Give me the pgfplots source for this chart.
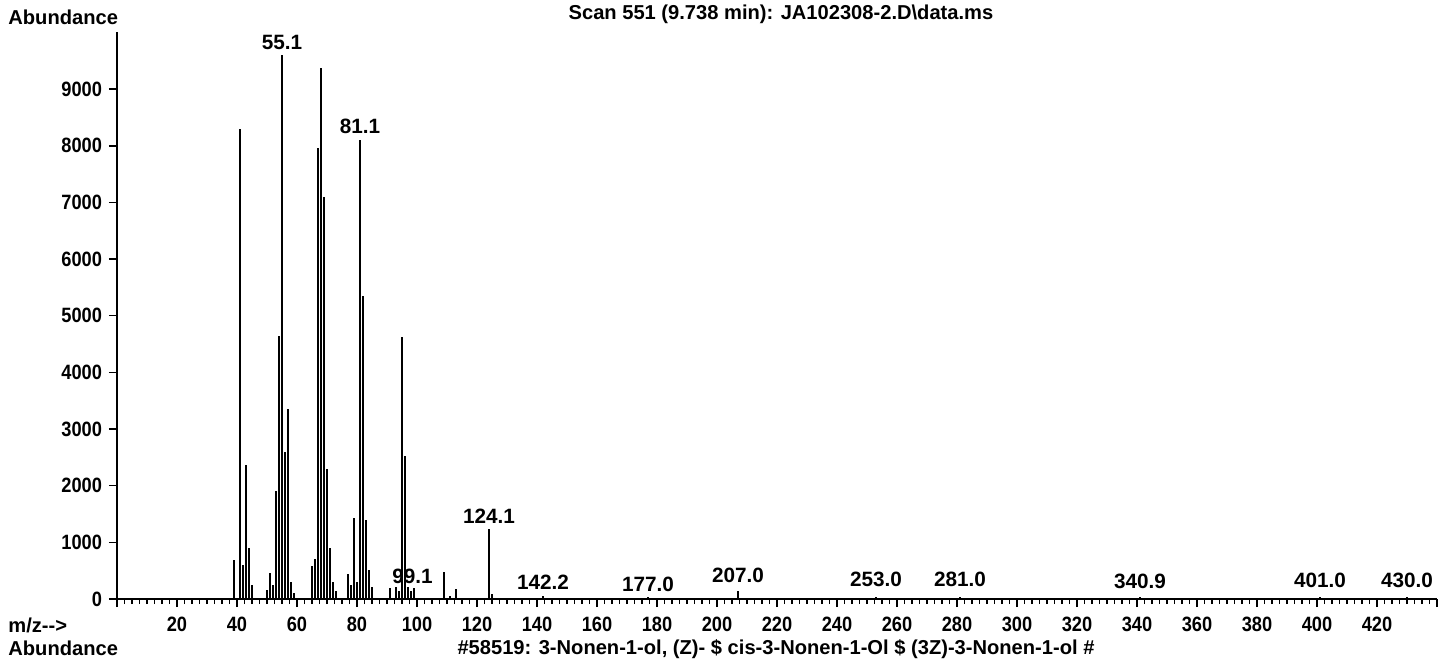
\documentclass[border=0pt]{standalone}
\usepackage{fontspec}
\setmainfont{Liberation Sans}
\newfontfamily\condfont[FakeStretch=0.88]{Liberation Sans}
\usepackage{pgfplots}
\pgfplotsset{compat=1.18}
\pgfplotstableread{
mz ab
39 690
41 8300
42 600
43 2365
44 905
45 250
50 160
51 465
52 250
53 1906
54 4640
55 9600
56 2600
57 3350
58 300
59 100
65 590
66 700
67 7960
68 9380
69 7100
70 2290
71 900
72 300
73 150
77 440
78 250
79 1435
80 300
81 8100
82 5350
83 1394
84 510
85 210
91 190
93 210
94 150
95 4630
96 2520
97 210
98 150
99 200
109 480
111 60
113 170
124 1235
125 80
142 50
177 30
207 150
253 40
281 40
341 30
401 30
430 30
}\spectrum
\newcommand{\tfont}{\fontsize{10.1}{12}\selectfont\bfseries}
\newcommand{\pfont}{\fontsize{10.4}{12}\selectfont\bfseries}
\newcommand{\nfont}{\condfont\fontsize{10.4}{12}\selectfont\bfseries}
\begin{document}
\begin{tikzpicture}
\useasboundingbox (0,0) rectangle (721bp,330bp);
\begin{axis}[
  at={(58.5bp,30.5bp)}, anchor=south west,
  scale only axis, width=660bp, height=283.3bp,
  xmin=0, xmax=440, ymin=0, ymax=10000,
  axis x line=bottom, axis y line=left,
  axis line style={-, line width=1bp, black},
  xtick={0,20,...,440},
  xticklabels={{},20,40,60,80,100,120,140,160,180,200,220,240,260,280,300,320,340,360,380,400,420,{}},
  minor x tick num=7,
  ytick={0,1000,...,9000},
  scaled y ticks=false,
  tick align=outside,
  major tick length=4bp, minor tick length=2.5bp,
  tick style={line width=0.8bp, black},
  /pgf/number format/set thousands separator={},
  /pgf/number format/assume math mode=true,
  ticklabel style={font=\nfont},
  xticklabel style={yshift=-1.5bp},
  clip=false,
]
\addplot[ycomb, line width=0.9bp, black, mark=none] table[x=mz, y=ab] {\spectrum};
\node[anchor=south, inner sep=0pt, font=\pfont] at (axis cs:55,9690) {55.1};
\node[anchor=south, inner sep=0pt, font=\pfont] at (axis cs:81,8205) {81.1};
\node[anchor=south, inner sep=0pt, font=\pfont] at (axis cs:124,1324) {124.1};
\node[anchor=south, inner sep=0pt, font=\pfont] at (axis cs:98.5,265) {99.1};
\node[anchor=south, inner sep=0pt, font=\pfont] at (axis cs:142,159) {142.2};
\node[anchor=south, inner sep=0pt, font=\pfont] at (axis cs:177,124) {177.0};
\node[anchor=south, inner sep=0pt, font=\pfont] at (axis cs:207,282) {207.0};
\node[anchor=south, inner sep=0pt, font=\pfont] at (axis cs:253,212) {253.0};
\node[anchor=south, inner sep=0pt, font=\pfont] at (axis cs:281,212) {281.0};
\node[anchor=south, inner sep=0pt, font=\pfont] at (axis cs:341,176) {340.9};
\node[anchor=south, inner sep=0pt, font=\pfont] at (axis cs:401,194) {401.0};
\node[anchor=south, inner sep=0pt, font=\pfont] at (axis cs:430,194) {430.0};
\end{axis}
\node[anchor=base west, inner sep=0pt, font=\tfont] at (4bp,317.5bp) {Abundance};
\node[anchor=base, inner sep=0pt, font=\tfont] at (390.5bp,320bp) {Scan 551 (9.738 min): JA102308-2.D\textbackslash data.ms};
\node[anchor=base west, inner sep=0pt, font=\tfont] at (4bp,14bp) {m/z-{}-{}>};
\node[anchor=base west, inner sep=0pt, font=\tfont] at (4bp,2.5bp) {Abundance};
\node[anchor=base, inner sep=0pt, font=\tfont] at (388bp,3bp) {\#58519: 3-Nonen-1-ol, (Z)- \$ cis-3-Nonen-1-Ol \$ (3Z)-3-Nonen-1-ol \#};
\end{tikzpicture}
\end{document}
